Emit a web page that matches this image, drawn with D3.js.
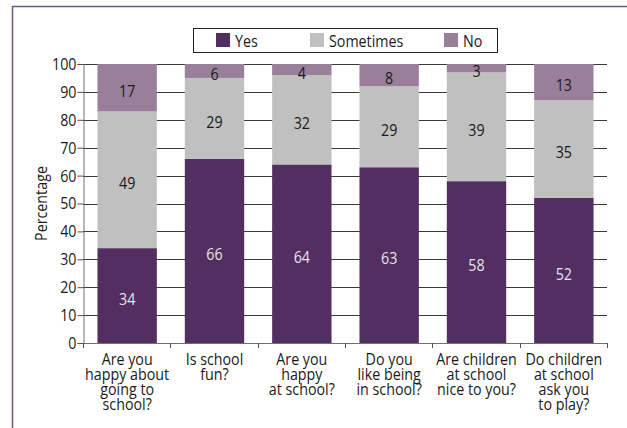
<!DOCTYPE html>
<html><head><meta charset="utf-8">
<script src="https://cdn.jsdelivr.net/npm/d3@7"></script>
<style>
html,body{margin:0;padding:0;background:#fff;}
svg text{font-family:"Open Sans",sans-serif;}
</style></head>
<body><svg id="c" width="627" height="428"></svg>
<script>
const categories = [
  ["Are you","happy about","going to","school?"],
  ["Is school","fun?"],
  ["Are you","happy","at school?"],
  ["Do you","like being","in school?"],
  ["Are children","at school","nice to you?"],
  ["Do children","at school","ask you","to play?"]
];
const seriesNames = ["Yes","Sometimes","No"];
const yesValues = [34, 66, 64, 63, 58, 52];
const sometimesValues = [49, 29, 32, 29, 39, 35];
const noValues = [17, 6, 4, 8, 3, 13];
const yTicks = [0,10,20,30,40,50,60,70,80,90,100];
const colors = ["#532e61","#c0c0c0","#9a7f9a"];

const FS = 17, SX = 0.84;
function condense(sel){
  sel.each(function(){
    const t = d3.select(this);
    const x0 = +t.attr("x") || 0;
    t.attr("transform", `translate(${x0},0) scale(${SX},1) translate(${-x0},0)`);
  });
}

const svg = d3.select("#c");
// frame
svg.append("line").attr("x1",12).attr("x2",627).attr("y1",6.5).attr("y2",6.5).attr("stroke","#6e5580").attr("stroke-width",1.5);
svg.append("line").attr("x1",12.5).attr("x2",12.5).attr("y1",6).attr("y2",428).attr("stroke","#6e5580").attr("stroke-width",1.5);

const L=83, R=607, T=64, B=343;
const idx = d3.range(categories.length);
const x = d3.scaleBand().domain(idx).range([L,R]).paddingInner(0.32).paddingOuter(0.16);
const y = d3.scaleLinear().domain([0,100]).range([B,T]).clamp(true);

const rows = idx.map(i=>({i, Yes:yesValues[i], Sometimes:sometimesValues[i], No:noValues[i]}));
const stack = d3.stack().keys(seriesNames)(rows);

// gridlines
svg.append("g").selectAll("line").data(yTicks.filter(t=>t>0)).join("line")
  .attr("x1",L).attr("x2",R).attr("y1",d=>Math.round(y(d))+0.5).attr("y2",d=>Math.round(y(d))+0.5)
  .attr("stroke","#3a3a3a").attr("stroke-width",1);

// bars
const g = svg.append("g");
stack.forEach((s,k)=>{
  g.append("g").selectAll("rect").data(s).join("rect")
    .attr("x",d=>x(d.data.i)+0.5).attr("width",x.bandwidth())
    .attr("y",d=>y(d[1])).attr("height",d=>y(d[0])-y(d[1]))
    .attr("fill",colors[k]);
  g.append("g").selectAll("text").data(s).join("text")
    .attr("x",d=>x(d.data.i)+0.5+x.bandwidth()/2)
    .attr("y",d=>(y(d[0])+y(d[1]))/2 + 3)
    .attr("dy","0.36em")
    .attr("text-anchor","middle")
    .attr("font-size",FS)
    .attr("fill",k===0?"#e6e2ea":"#1a1a1a")
    .text(d=>d.data[seriesNames[k]])
    .call(condense);
});

// y axis
const yAxis = d3.axisLeft(y).tickValues(yTicks).tickSize(6).tickPadding(1);
const ga = svg.append("g").attr("transform",`translate(${L+0.5},0)`).call(yAxis);
ga.select(".domain").attr("stroke","#707070");
ga.selectAll(".tick line").attr("stroke","#505050");
ga.selectAll(".tick text").attr("font-size",FS).attr("fill","#1a1a1a")
  .attr("font-family","Open Sans, sans-serif").call(condense);

// x axis
svg.append("line").attr("x1",L).attr("x2",R+1).attr("y1",B+0.5).attr("y2",B+0.5).attr("stroke","#707070");
const bounds = idx.map(i=>x(i)-x.step()*x.paddingInner()/2).concat([R]);
svg.append("g").selectAll("line").data(bounds).join("line")
  .attr("x1",d=>Math.round(d)+0.5).attr("x2",d=>Math.round(d)+0.5)
  .attr("y1",B).attr("y2",B+5).attr("stroke","#505050");

const xl = svg.append("g").selectAll("text").data(idx).join("text")
  .attr("x",i=>x(i)+0.5+x.bandwidth()/2).attr("y",365)
  .attr("text-anchor","middle").attr("font-size",FS).attr("fill","#1a1a1a");
xl.each(function(i){
  const t=d3.select(this);
  categories[i].forEach((line,j)=>{
    t.append("tspan").attr("x",x(i)+0.5+x.bandwidth()/2).attr("y",365+j*15).text(line);
  });
});
xl.call(condense);

// y label
svg.append("text").attr("transform",`translate(47,${(T+B)/2}) rotate(-90) scale(${SX},1)`)
  .attr("text-anchor","middle").attr("font-size",FS).attr("fill","#1a1a1a").text("Percentage");

// legend
const lg = svg.append("g");
lg.append("rect").attr("x",193.5).attr("y",28.5).attr("width",304).attr("height",24)
  .attr("fill","#fff").attr("stroke","#222").attr("stroke-width",1);
const lx = [216,310,444];
seriesNames.forEach((n,k)=>{
  lg.append("rect").attr("x",lx[k]).attr("y",33).attr("width",14).attr("height",14).attr("fill",colors[k]);
  lg.append("text").attr("x",lx[k]+19).attr("y",47).attr("font-size",FS).attr("fill","#1a1a1a").text(n).call(condense);
});
</script></body></html>
